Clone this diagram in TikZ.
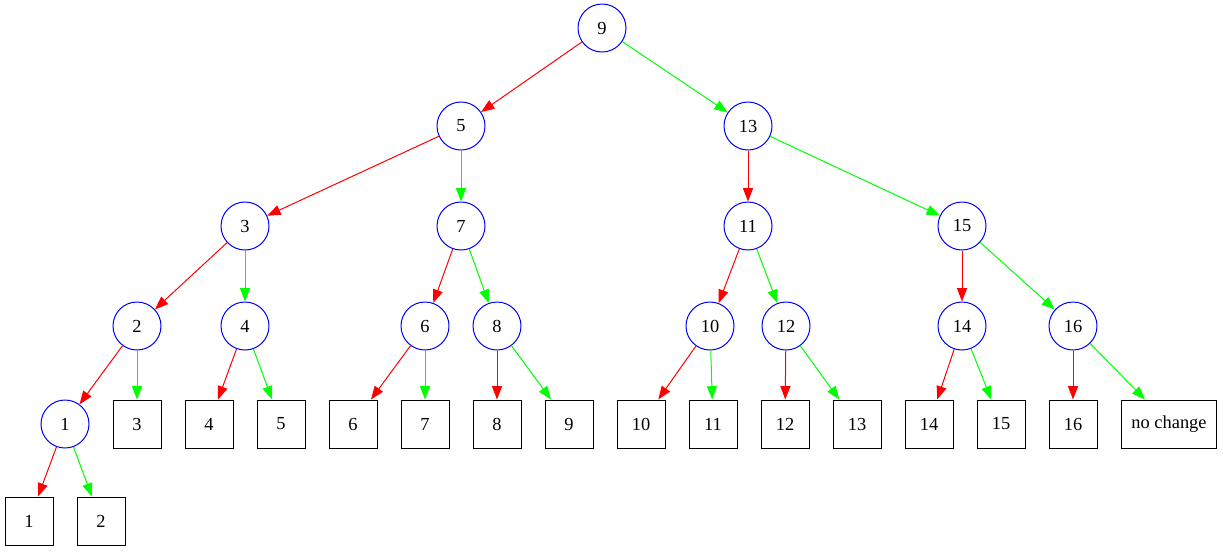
\documentclass[tikz,border=0pt]{standalone}
\usepackage{fontspec}
\setmainfont{Liberation Serif}
\usetikzlibrary{arrows.meta}

\tikzset{
    key/.style={circle, draw=blue, line width=0.75pt, minimum size=36pt, inner sep=0pt, font=\fontsize{13.8}{16}\selectfont},
    leaf/.style={rectangle, draw=black, line width=0.75pt, minimum width=36pt, minimum height=36pt, inner sep=3pt, font=\fontsize{13.8}{16}\selectfont},
    lo/.style={red, line width=0.75pt, -{Triangle[length=10pt, width=7.5pt]}},
    hi/.style={green, line width=0.75pt, -{Triangle[length=10pt, width=7.5pt]}}
}

\begin{document}
\begin{tikzpicture}[x=0.75pt, y=-0.75pt]

    \useasboundingbox (0,0) rectangle (1223,551);

    % ==========================================
    % SEARCH NODES (circles)
    % ==========================================
    \node[key] (k9)  at (602, 28)  {9};
    \node[key] (k5)  at (461, 126) {5};
    \node[key] (k13) at (748, 126) {13};
    \node[key] (k3)  at (245, 226) {3};
    \node[key] (k7)  at (461, 226) {7};
    \node[key] (k11) at (748, 226) {11};
    \node[key] (k15) at (962, 226) {15};
    \node[key] (k2)  at (137, 326) {2};
    \node[key] (k4)  at (245, 326) {4};
    \node[key] (k6)  at (425, 326) {6};
    \node[key] (k8)  at (497, 326) {8};
    \node[key] (k10) at (710, 326) {10};
    \node[key] (k12) at (786, 326) {12};
    \node[key] (k14) at (962, 326) {14};
    \node[key] (k16) at (1073, 326) {16};
    \node[key] (k1)  at (65, 424)  {1};

    % ==========================================
    % RESULTS (boxes)
    % ==========================================
    \node[leaf] (r3)  at (137, 424)  {3};
    \node[leaf] (r4)  at (209, 424)  {4};
    \node[leaf] (r5)  at (281, 424)  {5};
    \node[leaf] (r6)  at (353, 424)  {6};
    \node[leaf] (r7)  at (425, 424)  {7};
    \node[leaf] (r8)  at (497, 424)  {8};
    \node[leaf] (r9)  at (569, 424)  {9};
    \node[leaf] (r10) at (641, 424)  {10};
    \node[leaf] (r11) at (713, 424)  {11};
    \node[leaf] (r12) at (785, 424)  {12};
    \node[leaf] (r13) at (857, 424)  {13};
    \node[leaf] (r14) at (929, 424)  {14};
    \node[leaf] (r15) at (1001, 424) {15};
    \node[leaf] (r16) at (1073, 424) {16};
    \node[leaf, minimum width=71pt] (rnc) at (1169, 424) {no change};
    \node[leaf] (r1)  at (29, 521)   {1};
    \node[leaf] (r2)  at (101, 521)  {2};

    % ==========================================
    % EDGES: red = less, green = not less
    % ==========================================
    \draw[lo] (k9) -- (k5);
    \draw[hi] (k9) -- (k13);

    \draw[lo] (k5) -- (k3);
    \draw[hi] (k5) -- (k7);
    \draw[lo] (k13) -- (k11);
    \draw[hi] (k13) -- (k15);

    \draw[lo] (k3) -- (k2);
    \draw[hi] (k3) -- (k4);
    \draw[lo] (k7) -- (k6);
    \draw[hi] (k7) -- (k8);
    \draw[lo] (k11) -- (k10);
    \draw[hi] (k11) -- (k12);
    \draw[lo] (k15) -- (k14);
    \draw[hi] (k15) -- (k16);

    \draw[lo] (k2) -- (k1);
    \draw[hi] (k2) -- (r3);
    \draw[lo] (k4) -- (r4);
    \draw[hi] (k4) -- (r5);
    \draw[lo] (k6) -- (r6);
    \draw[hi] (k6) -- (r7);
    \draw[lo] (k8) -- (r8);
    \draw[hi] (k8) -- (r9);
    \draw[lo] (k10) -- (r10);
    \draw[hi] (k10) -- (r11);
    \draw[lo] (k12) -- (r12);
    \draw[hi] (k12) -- (r13);
    \draw[lo] (k14) -- (r14);
    \draw[hi] (k14) -- (r15);
    \draw[lo] (k16) -- (r16);
    \draw[hi] (k16) -- (rnc);

    \draw[lo] (k1) -- (r1);
    \draw[hi] (k1) -- (r2);

\end{tikzpicture}
\end{document}
